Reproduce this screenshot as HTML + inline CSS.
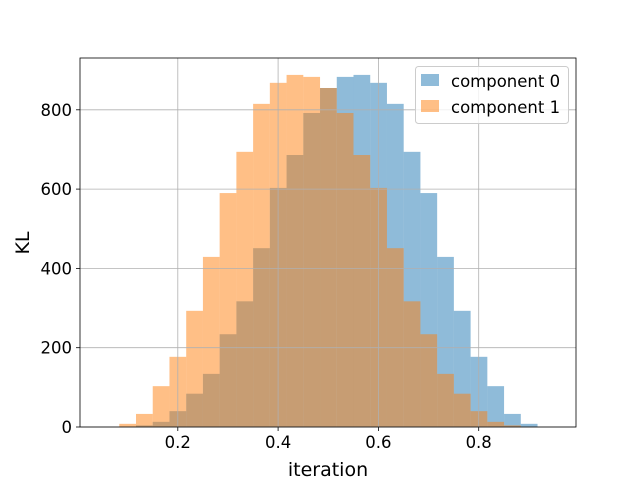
<!DOCTYPE html>
<html><head><meta charset="utf-8"><style>body{margin:0;background:#fff}svg{display:block;font-family:"DejaVu Sans","Liberation Sans",sans-serif}</style></head>
<body>
<svg id="chart" width="640" height="480" viewBox="0 0 640 480"></svg>
<script>
const binStart = 0.0833, binWidth = 0.03336;
const comp0 = [1,4,13,40,84,134,234,317,451,603,686,792,855,883,888,868,815,694,590,429,293,177,103,33,8];
const comp1 = [8,33,103,177,293,429,590,694,815,868,888,883,855,792,686,603,451,317,234,134,84,40,13,4,1];
const xTicks = [0.2,0.4,0.6,0.8];
const yTicks = [0,200,400,600,800];
const L=80,R=576,T=58,B=427;
const X=v=>77.5+v*501.5;
const Y=v=>427-v*0.3965;
const svg=document.getElementById('chart');
const NS='http://www.w3.org/2000/svg';
function mk(t,a){const e=document.createElementNS(NS,t);for(const k in a)e.setAttribute(k,a[k]);svg.appendChild(e);return e;}
function series(vals,color,name){
  vals.forEach((v,i)=>{
    const x0=X(binStart+i*binWidth),x1=X(binStart+(i+1)*binWidth);
    const r=mk('rect',{x:x0,y:Y(v),width:x1-x0,height:Y(0)-Y(v),fill:color,'fill-opacity':0.5});
    
    
  });
}
series(comp0,'#1f77b4','component-0');
series(comp1,'#ff7f0e','component-1');
xTicks.forEach(t=>{
  const g=mk('line',{x1:X(t),x2:X(t),y1:T,y2:B,stroke:'#b0b0b0','stroke-width':0.8});
  
  mk('line',{x1:X(t),x2:X(t),y1:B,y2:B+4,stroke:'#000','stroke-width':0.8});
  const tx=mk('text',{x:X(t),y:B+21,'text-anchor':'middle','font-size':16.5,fill:'#000'});tx.textContent=t.toFixed(1);
  
});
yTicks.forEach(t=>{
  const g=mk('line',{x1:L,x2:R,y1:Y(t),y2:Y(t),stroke:'#b0b0b0','stroke-width':0.8});
  
  mk('line',{x1:L-4,x2:L,y1:Y(t),y2:Y(t),stroke:'#000','stroke-width':0.8});
  const tx=mk('text',{x:L-8,y:Y(t)+6,'text-anchor':'end','font-size':16.5,fill:'#000'});tx.textContent=t;
  
});
const fr=mk('rect',{x:L,y:T,width:R-L,height:B-T,fill:'none',stroke:'#000','stroke-width':0.8});

const xl=mk('text',{x:(L+R)/2,y:476,'text-anchor':'middle','font-size':19});xl.textContent='iteration';

const yl=mk('text',{x:29,y:243,'text-anchor':'middle','font-size':19,transform:'rotate(-90 29 243)'});yl.textContent='KL';

const lg=mk('rect',{x:415.5,y:66.5,width:153,height:57,fill:'#fff','fill-opacity':0.8,stroke:'#ccc',rx:3});

[['component 0','#1f77b4'],['component 1','#ff7f0e']].forEach((d,i)=>{
  const s=mk('rect',{x:421,y:74+i*26,width:18,height:12,fill:d[1],'fill-opacity':0.5});
  
  const t=mk('text',{x:451,y:87+i*26,'font-size':16.5});t.textContent=d[0];
  
});
</script>
</body></html>
